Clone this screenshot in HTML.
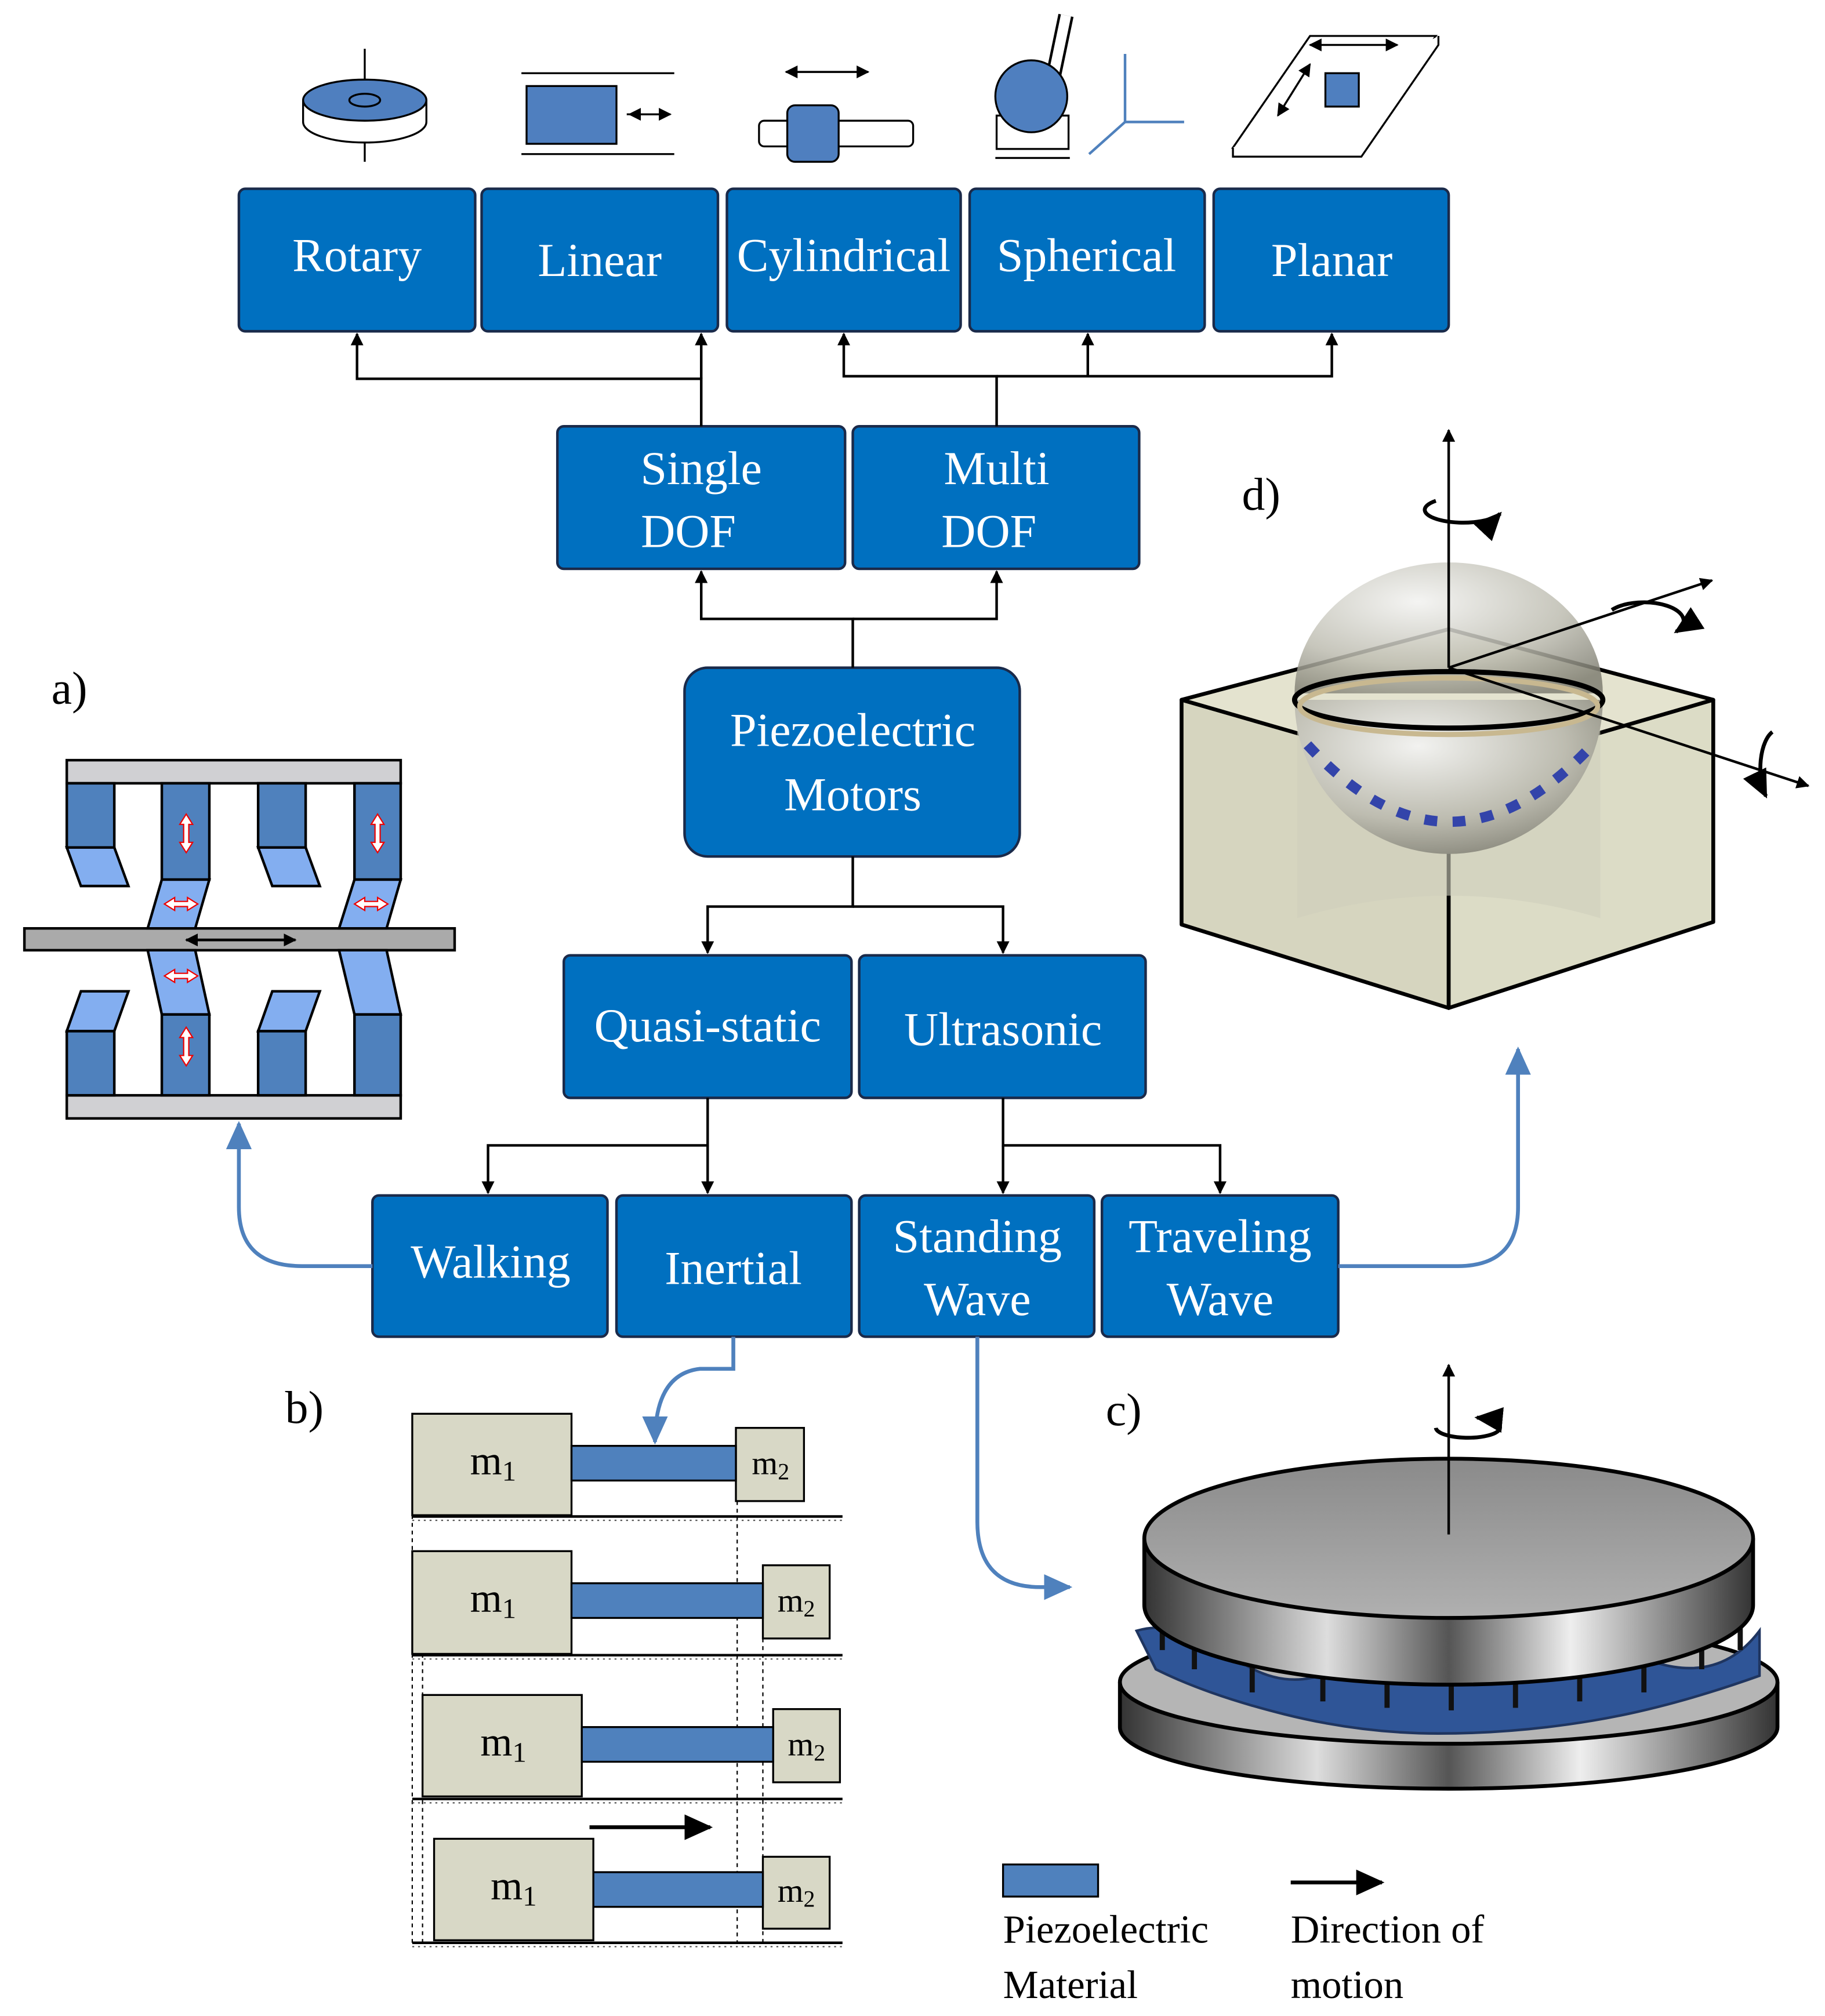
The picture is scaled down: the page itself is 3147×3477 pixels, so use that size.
<!DOCTYPE html>
<html><head><meta charset="utf-8"><style>html,body{margin:0;padding:0;background:#fff}svg{display:block}</style></head>
<body>
<svg width="3147" height="3477" viewBox="0 0 1421 1570" xmlns="http://www.w3.org/2000/svg" font-family="'Liberation Serif', serif">
<defs>
<marker id="ah" markerWidth="10" markerHeight="10" refX="9" refY="5" orient="auto" markerUnits="userSpaceOnUse"><path d="M0,0 L10,5 L0,10 z" fill="#000"/></marker>
<marker id="bh" markerWidth="24" markerHeight="24" refX="20" refY="12" orient="auto" markerUnits="userSpaceOnUse"><path d="M0,2 L22,12 L0,22 z" fill="#4f81bd"/></marker>
<marker id="kh" markerWidth="24" markerHeight="24" refX="20" refY="12" orient="auto" markerUnits="userSpaceOnUse"><path d="M0,2 L22,12 L0,22 z" fill="#000"/></marker>
<radialGradient id="sph" cx="0.4" cy="0.3" r="0.8"><stop offset="0" stop-color="#f2f2f0"/><stop offset="0.6" stop-color="#bdbcb0"/><stop offset="1" stop-color="#7f7e72"/></radialGradient>
<linearGradient id="cyl" x1="0" x2="1"><stop offset="0" stop-color="#333"/><stop offset="0.3" stop-color="#ddd"/><stop offset="0.5" stop-color="#555"/><stop offset="0.7" stop-color="#eee"/><stop offset="1" stop-color="#333"/></linearGradient>
<linearGradient id="top" x1="0" y1="0" x2="0" y2="1"><stop offset="0" stop-color="#8a8a8a"/><stop offset="1" stop-color="#b0b0b0"/></linearGradient>
</defs>

<g fill="#0070c0" stroke="#1a2a4a" stroke-width="2">
<rect x="186" y="147" width="184" height="111" rx="5"/>
<rect x="375" y="147" width="184" height="111" rx="5"/>
<rect x="566" y="147" width="182" height="111" rx="5"/>
<rect x="755" y="147" width="183" height="111" rx="5"/>
<rect x="945" y="147" width="183" height="111" rx="5"/>
<rect x="434" y="332" width="224" height="111" rx="5"/>
<rect x="664" y="332" width="223" height="111" rx="5"/>
<rect x="533" y="520" width="261" height="147" rx="18"/>
<rect x="439" y="744" width="224" height="111" rx="5"/>
<rect x="669" y="744" width="223" height="111" rx="5"/>
<rect x="290" y="931" width="183" height="110" rx="5"/>
<rect x="480" y="931" width="183" height="110" rx="5"/>
<rect x="669" y="931" width="183" height="110" rx="5"/>
<rect x="858" y="931" width="184" height="110" rx="5"/>
</g>
<g fill="#fff" font-size="37" text-anchor="middle">
<text x="278" y="211">Rotary</text>
<text x="467" y="215">Linear</text>
<text x="657" y="211">Cylindrical</text>
<text x="846" y="211">Spherical</text>
<text x="1037" y="215">Planar</text>
<text x="546" y="377">Single</text><text x="536" y="426">DOF</text>
<text x="776" y="377">Multi</text><text x="770" y="426">DOF</text>
<text x="664" y="581">Piezoelectric</text><text x="664" y="631">Motors</text>
<text x="551" y="811">Quasi-static</text>
<text x="781" y="814">Ultrasonic</text>
<text x="382" y="995">Walking</text>
<text x="571" y="1000">Inertial</text>
<text x="761" y="975">Standing</text><text x="761" y="1024">Wave</text>
<text x="950" y="975">Traveling</text><text x="950" y="1024">Wave</text>
</g>

<g stroke="#000" stroke-width="2" fill="none">
<path d="M546,332 V295 H278 V260" marker-end="url(#ah)"/>
<path d="M546,295 V260" marker-end="url(#ah)"/>
<path d="M776,332 V293 H657 V260" marker-end="url(#ah)"/>
<path d="M847,293 V260" marker-end="url(#ah)"/>
<path d="M776,293 H1037 V260" marker-end="url(#ah)"/>
<path d="M664,520 V482 H546 V445" marker-end="url(#ah)"/>
<path d="M664,482 H776 V445" marker-end="url(#ah)"/>
<path d="M664,667 V706 H551 V742" marker-end="url(#ah)"/>
<path d="M664,706 H781 V742" marker-end="url(#ah)"/>
<path d="M551,855 V892 H380 V929" marker-end="url(#ah)"/>
<path d="M551,892 V929" marker-end="url(#ah)"/>
<path d="M781,855 V892 H950 V929" marker-end="url(#ah)"/>
<path d="M781,892 V929" marker-end="url(#ah)"/>
</g>
<g stroke="#4f81bd" stroke-width="3" fill="none">
<path d="M290,986 H235 Q186,986 186,940 V875" marker-end="url(#bh)"/>
<path d="M1042,986 H1135 Q1182,986 1182,940 V817" marker-end="url(#bh)"/>
<path d="M571,1041 V1066 H545 Q510,1070 510,1123" marker-end="url(#bh)"/>
<path d="M761,1041 V1185 Q761,1236 810,1236 H833" marker-end="url(#bh)"/>
</g>

<g stroke="#000" stroke-width="1.5">
<line x1="284" y1="38" x2="284" y2="126"/>
<path d="M236,78 V95 A48,16 0 0 0 332,95 V78" fill="#fff"/>
<ellipse cx="284" cy="78" rx="48" ry="16" fill="#4f7fbf"/>
<ellipse cx="284" cy="78" rx="12" ry="5" fill="none"/>
<line x1="406" y1="57" x2="525" y2="57"/><line x1="406" y1="120" x2="525" y2="120"/>
<rect x="410" y="67" width="70" height="45" fill="#4f7fbf"/>
<line x1="488" y1="89" x2="522" y2="89" marker-end="url(#ah)"/><line x1="522" y1="89" x2="490" y2="89" marker-end="url(#ah)"/>
<rect x="591" y="94" width="120" height="20" rx="4" fill="#fff"/>
<rect x="613" y="82" width="40" height="44" rx="6" fill="#4f7fbf"/>
<line x1="612" y1="56" x2="676" y2="56" marker-end="url(#ah)"/><line x1="676" y1="56" x2="612" y2="56" marker-end="url(#ah)"/>
<rect x="776" y="90" width="56" height="26" fill="#fff"/>
<line x1="820" y1="60" x2="830" y2="12" stroke-width="12" stroke="#000"/><line x1="820" y1="60" x2="830" y2="12" stroke-width="8" stroke="#fff"/>
<circle cx="803" cy="75" r="28" fill="#4f7fbf"/>
<line x1="775" y1="123" x2="833" y2="123"/>
<line x1="876" y1="95" x2="876" y2="42" stroke="#4f81bd" stroke-width="2"/>
<line x1="876" y1="95" x2="922" y2="95" stroke="#4f81bd" stroke-width="2"/>
<line x1="876" y1="95" x2="848" y2="120" stroke="#4f81bd" stroke-width="2"/>
<path d="M1118,28 H1020 L960,115 H1060 Z" fill="#fff"/><path d="M960,115 V122 H1060 L1120,35 V28" fill="#fff"/>
<rect x="1032" y="57" width="26" height="26" fill="#4f7fbf"/>
<line x1="1020" y1="35" x2="1088" y2="35" marker-end="url(#ah)"/><line x1="1088" y1="35" x2="1020" y2="35" marker-end="url(#ah)"/>
<line x1="995" y1="90" x2="1020" y2="50" marker-end="url(#ah)"/><line x1="1020" y1="50" x2="995" y2="90" marker-end="url(#ah)"/>
</g>

<text x="40" y="548" font-size="36">a)</text>
<g stroke="#000" stroke-width="2">
<rect x="52" y="592" width="260" height="18" fill="#d0d0d3"/>
<rect x="19" y="723" width="335" height="17" fill="#aaa"/>
<rect x="52" y="853" width="260" height="18" fill="#d0d0d3"/>
<g fill="#4f81bd">
<rect x="52" y="610" width="37" height="50"/><rect x="126" y="610" width="37" height="75"/>
<rect x="201" y="610" width="37" height="50"/><rect x="276" y="610" width="36" height="75"/>
<rect x="52" y="803" width="37" height="50"/><rect x="126" y="790" width="37" height="63"/>
<rect x="201" y="803" width="37" height="50"/><rect x="276" y="790" width="36" height="63"/>
</g>
<g fill="#83aef0">
<path d="M52,660 H89 L100,690 H63 Z"/><path d="M201,660 H238 L249,690 H212 Z"/>
<path d="M126,685 H163 L152,723 H115 Z"/><path d="M276,685 H312 L301,723 H264 Z"/>
<path d="M115,740 H152 L163,790 H126 Z"/><path d="M264,740 H301 L312,790 H276 Z"/>
<path d="M63,772 H100 L89,803 H52 Z"/><path d="M212,772 H249 L238,803 H201 Z"/>
</g>
<line x1="145" y1="732" x2="230" y2="732" marker-end="url(#ah)"/><line x1="230" y1="732" x2="145" y2="732" marker-end="url(#ah)"/>
</g>
<g fill="#fff" stroke="#e00" stroke-width="1">
<path d="M145,634 l-5,8 h3 v14 h-3 l5,8 l5,-8 h-3 v-14 h3z"/><path d="M294,634 l-5,8 h3 v14 h-3 l5,8 l5,-8 h-3 v-14 h3z"/>
<path d="M145,800 l-5,8 h3 v14 h-3 l5,8 l5,-8 h-3 v-14 h3z"/>
<path d="M128,704 l8,-5 v3 h10 v-3 l8,5 l-8,5 v-3 h-10 v3z"/><path d="M276,704 l8,-5 v3 h10 v-3 l8,5 l-8,5 v-3 h-10 v3z"/>
<path d="M128,760 l8,-5 v3 h10 v-3 l8,5 l-8,5 v-3 h-10 v3z"/>
</g>

<text x="222" y="1108" font-size="36">b)</text>
<g stroke="#000" stroke-width="1.5">
<g stroke-dasharray="3,3" stroke-width="1"><line x1="321" y1="1180" x2="321" y2="1513"/><line x1="329" y1="1288" x2="329" y2="1513"/><line x1="574" y1="1169" x2="574" y2="1513"/><line x1="594" y1="1276" x2="594" y2="1513"/></g>
<g fill="#d8d8c6">
<rect x="321" y="1101" width="124" height="79"/><rect x="573" y="1112" width="53" height="57"/>
<rect x="321" y="1208" width="124" height="80"/><rect x="594" y="1219" width="52" height="57"/>
<rect x="329" y="1320" width="124" height="79"/><rect x="602" y="1331" width="52" height="57"/>
<rect x="338" y="1432" width="124" height="79"/><rect x="594" y="1446" width="52" height="56"/>
</g>
<g fill="#4f81bd"><rect x="445" y="1126" width="128" height="27"/><rect x="445" y="1233" width="149" height="27"/><rect x="453" y="1345" width="149" height="27"/><rect x="462" y="1458" width="132" height="27"/></g>
<g stroke-width="2"><line x1="321" y1="1181" x2="656" y2="1181"/><line x1="321" y1="1289" x2="656" y2="1289"/><line x1="321" y1="1401" x2="656" y2="1401"/><line x1="321" y1="1513" x2="656" y2="1513"/></g>
</g>
<g stroke="#555" stroke-width="1" stroke-dasharray="1.5,3"><line x1="321" y1="1184" x2="656" y2="1184"/><line x1="321" y1="1292" x2="656" y2="1292"/><line x1="321" y1="1404" x2="656" y2="1404"/><line x1="321" y1="1516" x2="656" y2="1516"/></g>
<line x1="459" y1="1423" x2="553" y2="1423" stroke="#000" stroke-width="3" marker-end="url(#kh)"/>
<g font-size="32" text-anchor="middle">
<text x="384" y="1148">m<tspan font-size="22" dy="5">1</tspan></text><text x="600" y="1148" font-size="26">m<tspan font-size="18" dy="4">2</tspan></text>
<text x="384" y="1255">m<tspan font-size="22" dy="5">1</tspan></text><text x="620" y="1255" font-size="26">m<tspan font-size="18" dy="4">2</tspan></text>
<text x="392" y="1367">m<tspan font-size="22" dy="5">1</tspan></text><text x="628" y="1367" font-size="26">m<tspan font-size="18" dy="4">2</tspan></text>
<text x="400" y="1479">m<tspan font-size="22" dy="5">1</tspan></text><text x="620" y="1481" font-size="26">m<tspan font-size="18" dy="4">2</tspan></text>
</g>

<text x="861" y="1110" font-size="36">c)</text>
<g stroke="#000" stroke-width="3">
<path d="M872,1310 V1345 A256,48 0 0 0 1384,1345 V1310" fill="url(#cyl)"/>
<ellipse cx="1128" cy="1310" rx="256" ry="48" fill="#b5b5b5"/>
<path d="M885,1270 Q920,1260 960,1290 T1040,1300 T1120,1300 T1200,1300 T1290,1295 T1370,1270 L1370,1305 Q1300,1330 1240,1340 T1120,1350 T1000,1335 T900,1300 Z" fill="#2f5597" stroke="#1f3560" stroke-width="2"/>
<g stroke="#111" stroke-width="4" fill="none">
<path d="M905,1250 V1285 M930,1262 V1300 M975,1275 V1318 M1030,1282 V1325 M1080,1286 V1330 M1130,1288 V1332 M1180,1286 V1330 M1230,1282 V1325 M1280,1275 V1318 M1325,1262 V1300 M1355,1250 V1285"/>
</g>
<path d="M891,1198 V1250 A237,62 0 0 0 1365,1250 V1198" fill="url(#cyl)"/>
<ellipse cx="1128" cy="1198" rx="237" ry="62" fill="url(#top)"/>
</g>
<line x1="1128" y1="1195" x2="1128" y2="1063" stroke="#000" stroke-width="2" marker-end="url(#ah)"/>
<path d="M1118,1112 A25,8 0 1 0 1150,1104" stroke="#000" stroke-width="3" fill="none" marker-end="url(#kh)"/>

<text x="967" y="397" font-size="36">d)</text>
<g stroke="#000" stroke-width="3" stroke-linejoin="round">
<path d="M920,545 L1128,605 L1128,785 L920,720 Z" fill="#d6d5bf"/>
<path d="M1128,605 L1334,545 L1334,718 L1128,785 Z" fill="#dcdcc6"/>
<path d="M920,545 L1128,490 L1334,545 L1128,605 Z" fill="#e4e3cf"/>
</g>
<path d="M1010,560 V715 Q1128,680 1246,715 V560" fill="#cfcfbc" opacity="0.6"/>
<path d="M1008,545 A120,120 0 0 0 1248,545 Z" fill="url(#sph)"/>
<path d="M1018,580 Q1128,700 1240,580" stroke="#3344aa" stroke-width="8" fill="none" stroke-dasharray="10,12"/>
<path d="M1008,540 A120,102 0 0 1 1248,540 Z" fill="url(#sph)" opacity="0.85"/>
<ellipse cx="1128" cy="545" rx="120" ry="22" fill="none" stroke="#000" stroke-width="4"/>
<ellipse cx="1128" cy="550" rx="116" ry="22" fill="none" stroke="#c8b890" stroke-width="4"/>
<g stroke="#000" stroke-width="2" fill="none">
<line x1="1128" y1="520" x2="1128" y2="335" marker-end="url(#ah)"/>
<line x1="1128" y1="520" x2="1333" y2="452" marker-end="url(#ah)"/>
<line x1="1128" y1="520" x2="1408" y2="612" marker-end="url(#ah)"/>
<path d="M1118,390 A30,10 0 1 0 1168,400" stroke-width="3" marker-end="url(#kh)"/>
<path d="M1255,475 A30,14 0 1 1 1305,492" stroke-width="3" marker-end="url(#kh)"/>
<path d="M1380,570 A14,30 0 0 0 1375,620" stroke-width="3" marker-end="url(#kh)"/>
</g>

<rect x="781" y="1452" width="74" height="25" fill="#4f81bd" stroke="#000" stroke-width="1.5"/>
<line x1="1005" y1="1466" x2="1076" y2="1466" stroke="#000" stroke-width="3" marker-end="url(#kh)"/>
<g font-size="31"><text x="781" y="1513">Piezoelectric</text><text x="781" y="1556">Material</text><text x="1005" y="1513">Direction of</text><text x="1005" y="1556">motion</text></g>
</svg>
</body></html>
